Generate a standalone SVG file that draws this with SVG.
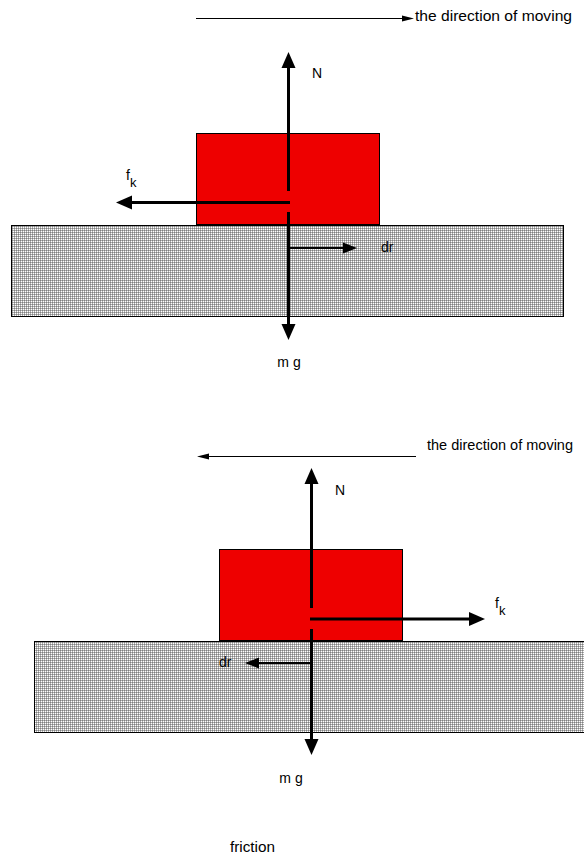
<svg xmlns="http://www.w3.org/2000/svg" width="584" height="857" viewBox="0 0 584 857">
<style>
text{font-family:"Liberation Sans",Arial,sans-serif;fill:#000}
.lbl{font-size:14px}
.sub{font-size:13px}
.box{fill:#ee0000;stroke:#000;stroke-width:1}
.ground{fill:url(#dots);stroke:#000;stroke-width:1}
.thick{stroke:#000;stroke-width:3;fill:none;marker-end:url(#hk)}
.mid{stroke:#000;stroke-width:2;fill:none;marker-end:url(#hd)}
.thin{stroke:#000;stroke-width:1;fill:none;marker-end:url(#ht)}
</style>
<defs>
<pattern id="dots" x="0" y="0" width="2" height="2" patternUnits="userSpaceOnUse">
<rect x="0" y="0" width="2" height="2" fill="#b0b0b0"/>
<rect x="0" y="0" width="1" height="1" fill="#808080"/>
<rect x="1" y="1" width="1" height="1" fill="#ffffff"/>
</pattern>
<marker id="hk" markerUnits="userSpaceOnUse" markerWidth="16" markerHeight="14" refX="4" refY="7" orient="auto" overflow="visible">
<path d="M0,0 L16,7 L0,14 z" fill="#000"/>
</marker>
<marker id="hd" markerUnits="userSpaceOnUse" markerWidth="14" markerHeight="11" refX="4" refY="5.5" orient="auto" overflow="visible">
<path d="M0,0 L14,5.5 L0,11 z" fill="#000"/>
</marker>
<marker id="ht" markerUnits="userSpaceOnUse" markerWidth="12" markerHeight="6" refX="3" refY="3" orient="auto" overflow="visible">
<path d="M0,0 L12,3 L0,6 z" fill="#000"/>
</marker>
</defs>

<g id="ground1"><rect class="ground" x="11.5" y="225.5" width="552" height="91"/></g>
<g id="block1"><rect class="box" x="196.5" y="133.5" width="183" height="91"/></g>
<g id="ground2"><rect class="ground" x="34.5" y="641.5" width="560" height="91"/></g>
<g id="block2"><rect class="box" x="219.5" y="549.5" width="183" height="91"/></g>

<g id="connectors">
<line class="thin" x1="196" y1="18.5" x2="405" y2="18.5"/>
<line class="thick" x1="288.5" y1="191" x2="288.5" y2="64"/>
<line class="thick" x1="290" y1="202.5" x2="128" y2="202.5"/>
<line class="thick" x1="288.5" y1="212" x2="288.5" y2="328"/>
<line class="mid" x1="289" y1="248" x2="347" y2="248"/>

<line class="thin" x1="416" y1="456.5" x2="206" y2="456.5"/>
<line class="thick" x1="311.5" y1="608" x2="311.5" y2="480"/>
<line class="thick" x1="310" y1="619" x2="473" y2="619"/>
<line class="thick" x1="311.5" y1="629" x2="311.5" y2="743"/>
<line class="mid" x1="311" y1="663" x2="255" y2="663"/>
</g>

<g id="labels1">
<text x="415" y="21" style="font-size:15px" textLength="157" lengthAdjust="spacingAndGlyphs">the direction of moving</text>
<text class="lbl" x="312" y="78">N</text>
<text class="lbl" x="126" y="180">f</text>
<text class="sub" x="130" y="187">k</text>
<text class="lbl" x="381" y="252">dr</text>
<text class="lbl" x="289" y="367" text-anchor="middle">m g</text>
</g>
<g id="labels2">
<text x="427" y="450" style="font-size:14px" textLength="146" lengthAdjust="spacingAndGlyphs">the direction of moving</text>
<text class="lbl" x="335" y="495">N</text>
<text class="lbl" x="495" y="608">f</text>
<text class="sub" x="499" y="615">k</text>
<text class="lbl" x="219" y="667">dr</text>
<text class="lbl" x="291" y="783" text-anchor="middle">m g</text>
<text class="lbl" x="230" y="852" textLength="45" lengthAdjust="spacingAndGlyphs">friction</text>
</g>
</svg>
